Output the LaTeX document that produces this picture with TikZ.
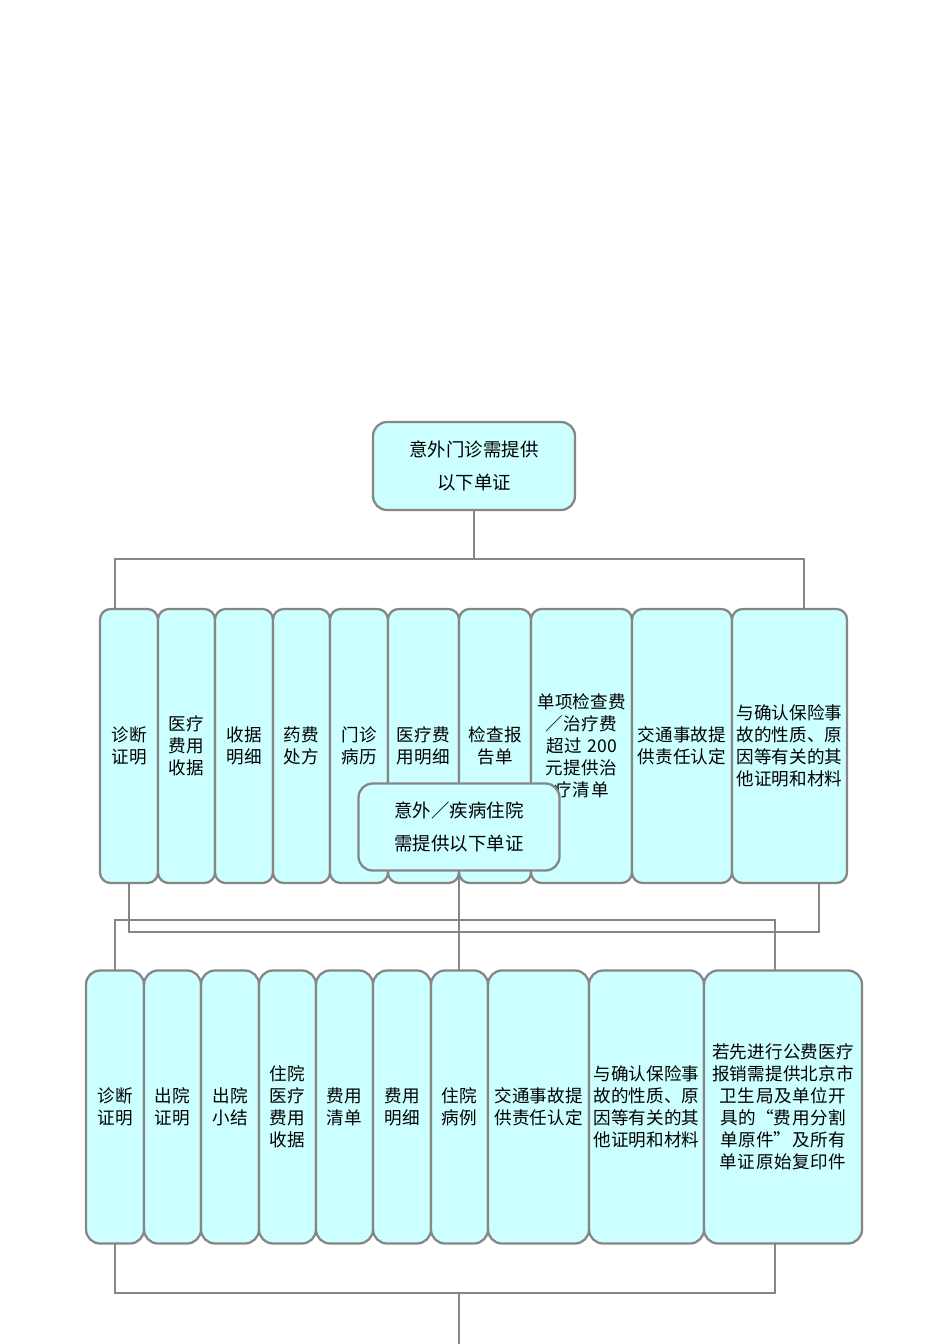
\documentclass[tikz,border=0pt]{standalone}
\usepackage{fontspec}
\setmainfont{Noto Sans CJK SC}
\XeTeXlinebreaklocale "zh"
\XeTeXlinebreakskip=0pt plus 1pt
\usetikzlibrary{positioning}
\definecolor{cardfill}{HTML}{CCFFFF}
\begin{document}
\begin{tikzpicture}[x=0.02cm,y=-0.02cm,
    card/.style={draw=gray!95,line width=1.3pt,fill=cardfill,rounded corners=6pt,inner sep=0pt},
    label/.style={inner sep=0pt,align=center,font=\fontsize{10}{12.5}\selectfont},
    head/.style={card,rounded corners=8pt,align=center,font=\fontsize{10.5}{19}\selectfont},
    link/.style={draw=gray!95,line width=1.3pt}]
    \useasboundingbox (0,0) rectangle (950,1344);
    % top
    \node[head,minimum width=202*0.02cm,minimum height=88*0.02cm] (top) at (474,466) {意外门诊需提供\\以下单证};
    % first row
    \def\rowA{100/158/诊断证明,158/215/医疗费用收据,215/273/收据明细,273/330/药费处方,330/388/门诊病历,388/459/医疗费用明细,459/531/检查报告单,531/632/单项检查费／治疗费超过 200 元提供治疗清单,632/732/交通事故提供责任认定,732/847/与确认保险事故的性质、原因等有关的其他证明和材料}
    \foreach \l/\r/\t [count=\i] in \rowA {
        \node[card,minimum width=(\r-\l)*0.02cm,minimum height=274*0.02cm] (a\i) at ({(\l+\r)/2},746) {};
        \node[label,text width=(\r-\l-8)*0.02cm] (ta\i) at (a\i) {\t};
    }
    \node[head,minimum width=201*0.02cm,minimum height=87*0.02cm] (mid) at (459,827) {意外／疾病住院\\需提供以下单证};
    % second row
    \def\rowB{86/144/诊断证明,144/201/出院证明,201/259/出院小结,259/316/住院医疗费用收据,316/373/费用清单,373/431/费用明细,431/488/住院病例,488/589/交通事故提供责任认定,589/704/与确认保险事故的性质、原因等有关的其他证明和材料,704/862/若先进行公费医疗报销需提供北京市卫生局及单位开具的“费用分割单原件”及所有单证原始复印件}
    \foreach \l/\r/\t [count=\i] in \rowB {
        \node[card,rounded corners=8pt,minimum width=(\r-\l)*0.02cm,minimum height=273*0.02cm] (b\i) at ({(\l+\r)/2},1107) {};
        \node[label,text width=(\r-\l-8)*0.02cm] (tb\i) at (b\i) {\t};
    }
    \coordinate (end) at (459,1344);
    % connectors
    \draw[link] (top.south) -- (474,559) (115,609) |- (804,559) -- (804,609);
    \draw[link] (129,883) |- (819,932) -- (819,883);
    \draw[link] (mid.south) -- (459,970);
    \draw[link] (115,970) |- (775,920) -- (775,970);
    \draw[link] (115,1243) |- (775,1293) -- (775,1243);
    \draw[link] (459,1293) -- (end);
\end{tikzpicture}
\end{document}
